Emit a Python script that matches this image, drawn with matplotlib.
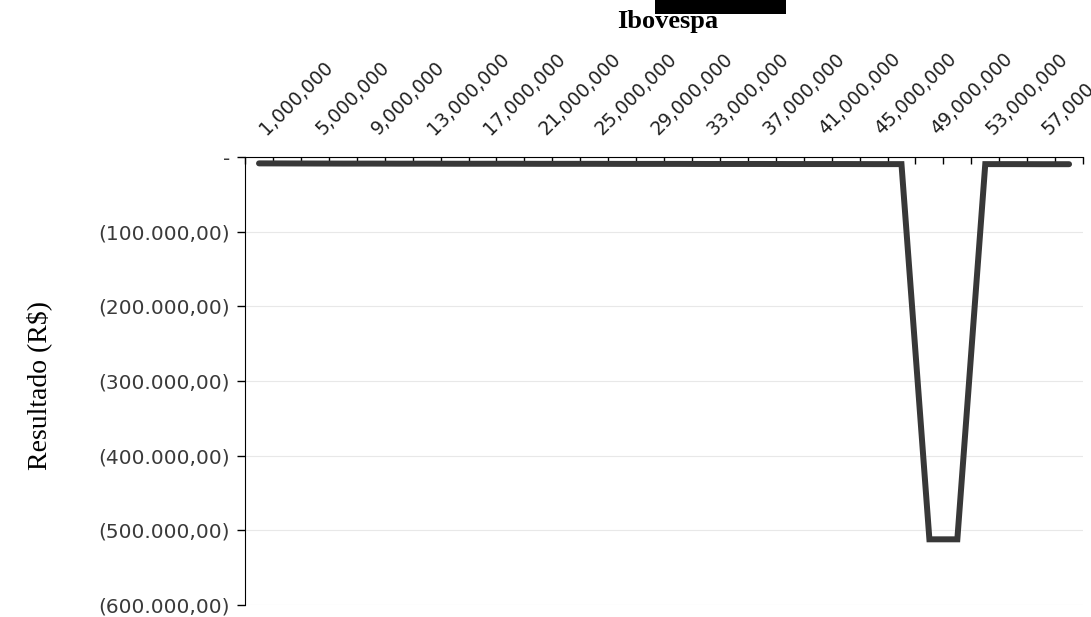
import matplotlib.pyplot as plt
from matplotlib.patches import Rectangle
from matplotlib.ticker import FuncFormatter
import numpy as np

# categorias do eixo (pontos do Ibovespa) e resultado da carteira em R$
ibovespa = list(range(1_000_000, 60_000_000, 2_000_000))
resultado = [-8500, -8600, -8700, -8800, -8800, -8900, -8900, -9000, -9000,
             -9000, -9100, -9100, -9100, -9200, -9200, -9200, -9300, -9300,
             -9300, -9400, -9400, -9400, -9500, -9500, -512000, -512000,
             -9500, -9500, -9600, -9600]
yticks = [0, -100000, -200000, -300000, -400000, -500000, -600000]


def fmt_brl(v, pos):
    if v == 0:
        return "-"
    s = "{:,.2f}".format(abs(v)).replace(",", "X").replace(".", ",").replace("X", ".")
    return "(" + s + ")" if v < 0 else s


fig = plt.figure(figsize=(10.91, 6.17), dpi=100)
ax = fig.add_axes([0.2246, 0.0194, 0.7681, 0.7261])

x = np.arange(len(ibovespa))
ax.plot(x, resultado, color="#383838", lw=4.3, solid_capstyle="round",
        solid_joinstyle="miter", zorder=3)

ax.set_xlim(-0.5, len(ibovespa) - 0.5)
ax.set_ylim(-600000, 0)
ax.set_yticks(yticks)
ax.yaxis.set_major_formatter(FuncFormatter(fmt_brl))
ax.grid(axis="y", color="#e8e8e8", lw=0.8)

# eixo x no topo: marcas entre categorias, rotulos a cada 2 categorias
ax.xaxis.tick_top()
ax.set_xticks(np.arange(-0.5, len(ibovespa), 1))
ax.set_xticklabels([])
ax.tick_params(axis="x", which="major", direction="in", length=5, width=1)
ax.set_xticks(x[::2] + 0.15, minor=True)
ax.set_xticklabels(["{:,}".format(v) for v in ibovespa[::2]], minor=True,
                   rotation=45, ha="left", va="center", rotation_mode="anchor",
                   fontsize=13.5, color="#222222")
ax.tick_params(axis="x", which="minor", length=0, pad=18, top=True, bottom=False)

ax.tick_params(axis="y", direction="out", length=6, width=1, pad=5,
               labelsize=14.5, labelcolor="#3a3a3a")

ax.spines["right"].set_visible(False)
ax.spines["bottom"].set_visible(False)
ax.spines["top"].set_color("black")
ax.spines["left"].set_color("black")

fig.text(0.612, 0.965, "Ibovespa", ha="center", va="center",
         family="Liberation Serif", weight="bold", fontsize=19)
fig.text(0.036, 0.375, "Resultado (R$)", ha="center", va="center",
         rotation=90, family="Liberation Serif", fontsize=20)

# tarja preta do titulo cortado
fig.patches.append(Rectangle((0.6, 0.977), 0.12, 0.023, transform=fig.transFigure,
                             facecolor="black", edgecolor="none"))

fig.savefig("out.png", dpi=100)
